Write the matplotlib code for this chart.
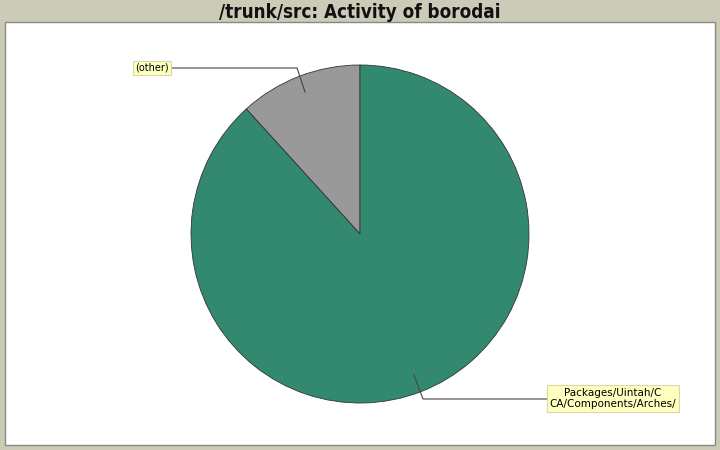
import matplotlib
matplotlib.use("Agg")
import matplotlib.pyplot as plt
from matplotlib.patches import Rectangle

labels = ["(other)", "Packages/Uintah/C\nCA/Components/Arches/"]
values = [11.75, 88.25]
colors = ["#999999", "#33896f"]
title = "/trunk/src: Activity of borodai"

W, H = 720, 450
fig = plt.figure(figsize=(7.2, 4.5), dpi=100)
fig.patch.set_facecolor("#cccbb8")
ax = fig.add_axes([0, 0, 1, 1])

# plot area
ax.add_patch(Rectangle((5, 450 - 445), 710, 445 - 22, facecolor="white",
                       edgecolor="#888888", lw=1, zorder=0))

wedges, _ = ax.pie(values, colors=colors, startangle=90, counterclock=True,
                   center=(360, 450 - 234), radius=169,
                   wedgeprops=dict(edgecolor="#333333", linewidth=0.6),
                   frame=True)
ax.set_xlim(0, W)
ax.set_ylim(0, H)
ax.set_aspect("equal")
ax.axis("off")

# leader lines
ax.plot([170, 297, 305], [450 - 68, 450 - 68, 450 - 92], color="#444444", lw=0.8)
ax.plot([549, 423, 414], [450 - 399, 450 - 399, 450 - 375], color="#444444", lw=0.8)

box = dict(boxstyle="square,pad=0.25", facecolor="#ffffc0", edgecolor="#d8d8a8", lw=0.8)
ax.text(152, 450 - 68, labels[0], fontsize=7, ha="center", va="center",
        family="DejaVu Sans", bbox=box)
ax.text(613, 450 - 398.5, labels[1], fontsize=7.5, ha="center", va="center",
        family="DejaVu Sans", bbox=box, linespacing=1.1)

ax.text(360, 450 - 12, title, fontsize=13.5, fontweight="bold", ha="center",
        va="center", family="DejaVu Sans", fontstretch="condensed", color="#111111")

fig.savefig("out.png", dpi=100, facecolor=fig.get_facecolor())
